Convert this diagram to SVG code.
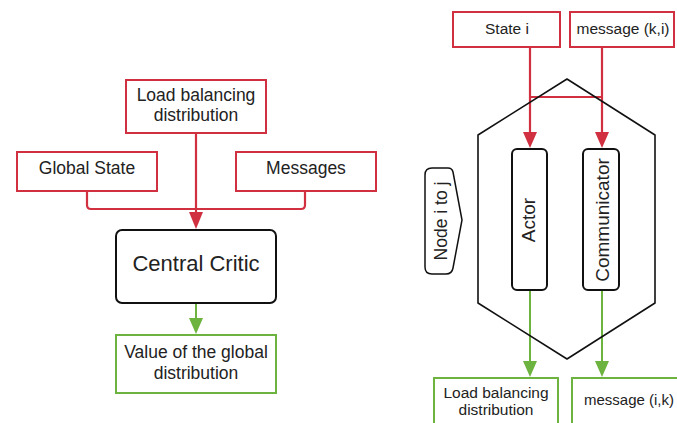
<svg xmlns="http://www.w3.org/2000/svg" width="677" height="423" viewBox="0 0 677 423">
<defs>
<style>
text{font-family:"Liberation Sans",Arial,sans-serif;fill:#222;text-anchor:middle}
.red{fill:#fff;stroke:#d0303f;stroke-width:2}
.green{fill:#fff;stroke:#6db33f;stroke-width:2}
.blk{fill:#fff;stroke:#111;stroke-width:2}
.rl{fill:none;stroke:#d0303f;stroke-width:2.2}
.gl{fill:none;stroke:#6db33f;stroke-width:2}
.t17{font-size:17.5px}
.t15{font-size:15.5px}
.tv{font-size:19px}
</style>
</defs>
<rect width="677" height="423" fill="#fff"/>
<g id="connectors">
<path class="rl" d="M87,191 V205 Q87,209 91,209 H301 Q305,209 305,205 V191"/>
<path class="rl" d="M196,133 V214"/>
<path d="M189,212 L203,212 L196,229 z" fill="#d0303f"/>
<path class="gl" d="M196,303 V320"/>
<path d="M189,318 L203,318 L196,334 z" fill="#6db33f"/>
<path class="rl" d="M530,47 V134 M602,47 V134 M530,97 H602"/>
<path d="M523,132 L537,132 L530,148 z" fill="#d0303f"/>
<path d="M595,132 L609,132 L602,148 z" fill="#d0303f"/>
<path class="gl" d="M530,290 V362 M602,290 V362"/>
<path d="M523,361 L537,361 L530,377 z" fill="#6db33f"/>
<path d="M595,361 L609,361 L602,377 z" fill="#6db33f"/>
</g>
<g id="hexagon">
<path d="M567,79 L478,135 V303 L567,359 L655,303 V135 Z" fill="none" stroke="#111" stroke-width="1.6" stroke-linejoin="round"/>
</g>
<g id="load-balancing-left">
<rect class="red" x="126" y="80" width="140" height="53"/>
<text class="t17" x="196" y="101">Load balancing</text>
<text class="t17" x="196" y="121">distribution</text>
</g>
<g id="global-state">
<rect class="red" x="17" y="152" width="140" height="39"/>
<text class="t17" x="87" y="174">Global State</text>
</g>
<g id="messages">
<rect class="red" x="236" y="152" width="140" height="39"/>
<text class="t17" x="306" y="174">Messages</text>
</g>
<g id="central-critic">
<rect class="blk" x="116" y="230" width="160" height="73" rx="6"/>
<text x="196" y="271" font-size="22">Central Critic</text>
</g>
<g id="value-global">
<rect class="green" x="116" y="335" width="160" height="58"/>
<text class="t17" x="196" y="358">Value of the global</text>
<text class="t17" x="196" y="379">distribution</text>
</g>
<g id="state-i">
<rect class="red" x="453" y="12" width="107" height="35"/>
<text class="t15" x="507" y="34">State i</text>
</g>
<g id="message-ki">
<rect class="red" x="570" y="12" width="104" height="35"/>
<text class="t15" x="623" y="34">message (k,i)</text>
</g>
<g id="actor">
<rect class="blk" x="512" y="149" width="35" height="141" rx="5"/>
<text class="tv" x="0" y="0" transform="translate(535,220) rotate(-90)">Actor</text>
</g>
<g id="communicator">
<rect class="blk" x="583" y="149" width="36" height="141" rx="5"/>
<text class="tv" x="0" y="0" transform="translate(609,220) rotate(-90)">Communicator</text>
</g>
<g id="node-i-to-j">
<path d="M432,168 H448 Q452,168 453,172 L462,220 L453,268 Q452,274 446,274 H432 Q425,274 425,267 V175 Q425,168 432,168 Z" fill="#fff" stroke="#111" stroke-width="1.5"/>
<text x="0" y="0" font-size="17.5" transform="translate(447,221) rotate(-90)">Node i to j</text>
</g>
<g id="load-balancing-right">
<rect class="green" x="434" y="378" width="124" height="60"/>
<text class="t15" x="496" y="398">Load balancing</text>
<text class="t15" x="496" y="415">distribution</text>
</g>
<g id="message-ik">
<rect class="green" x="572" y="378" width="120" height="60"/>
<text x="584" y="405" font-size="15" style="text-anchor:start">message (i,k)</text>
</g>
</svg>
